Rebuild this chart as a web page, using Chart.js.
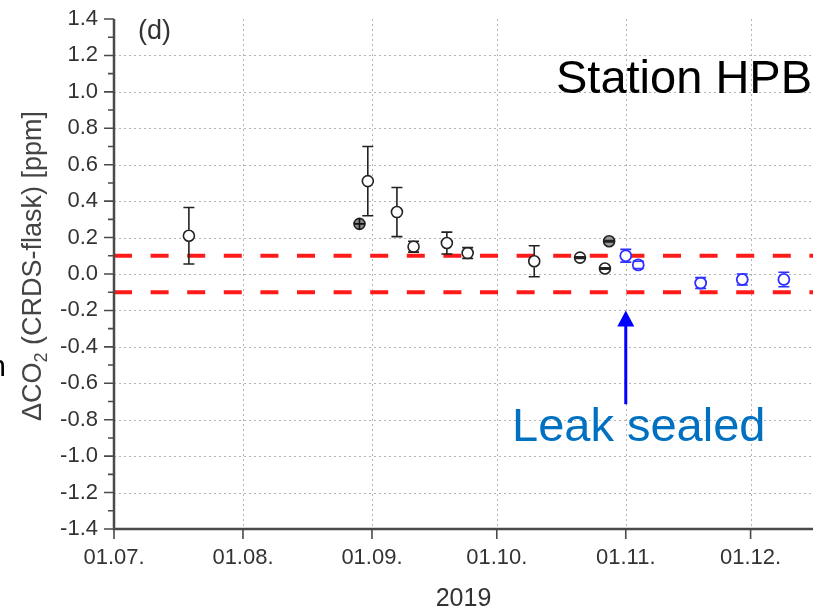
<!DOCTYPE html>
<html>
<head>
<meta charset="utf-8">
<script src="https://cdn.jsdelivr.net/npm/chart.js@4"></script>
<style>
  html, body { margin: 0; padding: 0; background: #fff; }
  #wrap { width: 813px; height: 610px; position: relative; }
</style>
</head>
<body>
<div id="wrap"><canvas id="c" width="813" height="610"></canvas></div>
<script>
// ΔCO2 = CRDS minus flask (ppm) at station HPB, 2019
const beforeDates = ['2019-07-19', '2019-08-31', '2019-09-07', '2019-09-11', '2019-09-19',
                     '2019-09-24', '2019-10-10', '2019-10-21', '2019-10-27', '2019-10-28'];
const beforeDiff  = [0.21, 0.51, 0.34, 0.15, 0.17, 0.115, 0.07, 0.09, 0.03, 0.18];
const beforeErr   = [0.155, 0.19, 0.135, 0.03, 0.06, 0.03, 0.085, 0.004, 0.004, 0.004];

// flagged flask pair
const flaggedDates = ['2019-08-29'];
const flaggedDiff  = [0.275];

// after the leak was sealed
const afterDates = ['2019-11-01', '2019-11-04', '2019-11-19', '2019-11-29', '2019-12-09'];
const afterDiff  = [0.10, 0.05, -0.05, -0.03, -0.03];
const afterErr   = [0.035, 0.02, 0.03, 0.03, 0.04];

// compatibility goal band
const toleranceLimits = [0.1, -0.1];

// axis
const axisStart = '2019-07-01';
const axisEnd = '2019-12-16';
const monthTickDates = ['2019-07-01', '2019-08-01', '2019-09-01', '2019-10-01', '2019-11-01', '2019-12-01'];
const monthTickLabels = ['01.07.', '01.08.', '01.09.', '01.10.', '01.11.', '01.12.'];
const leakSealedDate = '2019-11-01';
const shadedDates = ['2019-10-28'];

const DAY = 86400000;
const dayOf = s => (Date.parse(s + 'T00:00:00Z') - Date.parse(axisStart + 'T00:00:00Z')) / DAY;
const pts = (dates, vals) => dates.map((d, i) => ({ x: dayOf(d), y: vals[i] }));

const FONT = '"Liberation Sans", Arial, Helvetica, sans-serif';
const BLUE_PTS = '#2f2fff';

const bandSets = toleranceLimits.map(v => ({
  type: 'line',
  data: [{ x: dayOf(axisStart), y: v }, { x: dayOf(axisEnd), y: v }],
  borderColor: '#ff1a1a',
  borderWidth: 4,
  borderDash: [18, 18.6],
  pointRadius: 0,
  order: 5
}));

const decor = {
  id: 'decor',
  beforeDatasetsDraw(chart) {
    const { ctx, chartArea: a, scales: { x, y } } = chart;
    ctx.save();
    ctx.strokeStyle = '#b4b4b4';
    ctx.lineWidth = 1;
    ctx.setLineDash([2, 3]);
    y.ticks.forEach(t => {
      if (t.value > -1.35 && t.value < 1.35) {
        const py = Math.round(y.getPixelForValue(t.value)) + 0.5;
        ctx.beginPath(); ctx.moveTo(a.left, py); ctx.lineTo(a.right, py); ctx.stroke();
      }
    });
    x.ticks.forEach(t => {
      if (t.value > 0.5) {
        const px = Math.round(x.getPixelForValue(t.value)) + 0.5;
        ctx.beginPath(); ctx.moveTo(px, a.top); ctx.lineTo(px, a.bottom); ctx.stroke();
      }
    });
    ctx.restore();
  },
  afterDatasetsDraw(chart) {
    const { ctx, scales: { y } } = chart;
    ctx.save();
    chart.data.datasets.forEach((ds, i) => {
      if (!ds.errs) return;
      const meta = chart.getDatasetMeta(i);
      ctx.strokeStyle = ds.borderColor;
      ctx.lineWidth = 1.6;
      meta.data.forEach((el, j) => {
        const v = ds.data[j].y, e = ds.errs[j];
        const top = y.getPixelForValue(v + e), bot = y.getPixelForValue(v - e);
        const r = ds.pointRadius + 0.5;
        ctx.beginPath();
        if (el.y - top > r) { ctx.moveTo(el.x, top); ctx.lineTo(el.x, el.y - r); }
        if (bot - el.y > r) { ctx.moveTo(el.x, el.y + r); ctx.lineTo(el.x, bot); }
        ctx.moveTo(el.x - 5.5, top); ctx.lineTo(el.x + 5.5, top);
        ctx.moveTo(el.x - 5.5, bot); ctx.lineTo(el.x + 5.5, bot);
        ctx.stroke();
      });
    });
    ctx.restore();
  },
  afterDraw(chart) {
    const { ctx, chartArea: a, scales: { x, y } } = chart;
    ctx.save();
    // axis lines
    ctx.strokeStyle = '#4a4a4a';
    ctx.lineWidth = 2.5;
    ctx.beginPath();
    ctx.moveTo(a.left, a.top); ctx.lineTo(a.left, a.bottom); ctx.lineTo(a.right, a.bottom);
    ctx.stroke();
    // y tick marks, major every 0.2 and minor between
    ctx.lineWidth = 1.6;
    ctx.beginPath();
    for (let k = -14; k <= 14; k++) {
      const py = y.getPixelForValue(k / 10);
      const len = (k % 2 === 0) ? 10 : 6;
      ctx.moveTo(a.left - len, py); ctx.lineTo(a.left, py);
    }
    x.ticks.forEach(t => {
      const px = x.getPixelForValue(t.value);
      ctx.moveTo(px, a.bottom); ctx.lineTo(px, a.bottom + 10);
    });
    ctx.stroke();

    // y axis title with subscript
    ctx.fillStyle = '#444';
    ctx.translate(41, 266);
    ctx.rotate(-Math.PI / 2);
    const big = '27px ' + FONT, small = '18px ' + FONT;
    ctx.font = big; const w1 = ctx.measureText('\u0394CO').width;
    ctx.font = small; const w2 = ctx.measureText('2').width;
    ctx.font = big; const w3 = ctx.measureText(' (CRDS-flask) [ppm]').width;
    let sx = -(w1 + w2 + w3) / 2;
    ctx.textBaseline = 'alphabetic';
    ctx.font = big; ctx.fillText('\u0394CO', sx, 0); sx += w1;
    ctx.font = small; ctx.fillText('2', sx, 6); sx += w2;
    ctx.font = big; ctx.fillText(' (CRDS-flask) [ppm]', sx, 0);
    ctx.setTransform(1, 0, 0, 1, 0, 0);

    // x axis title
    ctx.fillStyle = '#333';
    ctx.font = '25px ' + FONT;
    ctx.textAlign = 'center';
    ctx.fillText('2019', (a.left + a.right) / 2, 606);

    // panel letter and station name
    ctx.textAlign = 'left';
    ctx.font = '27px ' + FONT;
    ctx.fillText('(d)', 138, 39);
    ctx.fillStyle = '#000';
    ctx.font = '47px ' + FONT;
    ctx.fillText('Station HPB', 556, 93);

    // partial word at left margin
    ctx.font = '30px ' + FONT;
    ctx.textAlign = 'right';
    ctx.fillText('n', 6, 376);

    // leak-sealed arrow
    const ax = x.getPixelForValue(dayOf(leakSealedDate));
    const tip = y.getPixelForValue(-0.2), tail = y.getPixelForValue(-0.715);
    ctx.strokeStyle = '#0000ff';
    ctx.fillStyle = '#0000ff';
    ctx.lineWidth = 3;
    ctx.beginPath(); ctx.moveTo(ax, tail); ctx.lineTo(ax, tip + 14); ctx.stroke();
    ctx.beginPath();
    ctx.moveTo(ax, tip); ctx.lineTo(ax - 8.5, tip + 16); ctx.lineTo(ax + 8.5, tip + 16);
    ctx.closePath(); ctx.fill();

    ctx.fillStyle = '#0070c0';
    ctx.font = '47px ' + FONT;
    ctx.textAlign = 'left';
    ctx.fillText('Leak sealed', 512, 441);
    ctx.restore();
  }
};

new Chart(document.getElementById('c'), {
  type: 'scatter',
  data: {
    datasets: [
      {
        data: pts(beforeDates, beforeDiff),
        errs: beforeErr,
        borderColor: '#222',
        backgroundColor: ctx => shadedDates.includes(beforeDates[ctx.dataIndex]) ? '#9a9a9a' : '#fff',
        pointRadius: 5.5,
        pointBorderWidth: 1.6,
        order: 1
      },
      {
        data: pts(flaggedDates, flaggedDiff),
        borderColor: '#222',
        backgroundColor: '#8a8a8a',
        pointRadius: 5.5,
        pointBorderWidth: 1.6,
        order: 1
      },
      {
        data: pts(flaggedDates, flaggedDiff),
        pointStyle: 'cross',
        borderColor: '#111',
        pointRadius: 5.5,
        pointBorderWidth: 1.6,
        order: 0
      },
      {
        data: pts(afterDates, afterDiff),
        errs: afterErr,
        borderColor: BLUE_PTS,
        backgroundColor: '#fff',
        pointRadius: 5.5,
        pointBorderWidth: 1.8,
        order: 1
      },
      ...bandSets
    ]
  },
  options: {
    responsive: false,
    animation: false,
    events: [],
    layout: { autoPadding: false, padding: { top: 19, right: 0, bottom: 0, left: 0 } },
    plugins: { legend: { display: false }, tooltip: { enabled: false } },
    scales: {
      x: {
        type: 'linear',
        min: dayOf(axisStart),
        max: dayOf(axisEnd),
        grid: { display: false, drawTicks: false },
        border: { display: false },
        afterBuildTicks: s => { s.ticks = monthTickDates.map(d => ({ value: dayOf(d) })); },
        afterFit: s => { s.height = 81; s.paddingLeft = 0; s.paddingRight = 0; },
        ticks: {
          autoSkip: false,
          maxRotation: 0,
          padding: 16,
          color: '#333',
          font: { family: FONT, size: 22 },
          callback: (v, i) => monthTickLabels[i]
        }
      },
      y: {
        min: -1.4,
        max: 1.4,
        grid: { display: false, drawTicks: false },
        border: { display: false },
        afterFit: s => { s.width = 114; s.paddingTop = 0; s.paddingBottom = 0; },
        ticks: {
          stepSize: 0.2,
          padding: 16,
          color: '#333',
          font: { family: FONT, size: 22 },
          callback: v => (Math.abs(v) < 1e-9 ? 0 : v).toFixed(1)
        }
      }
    }
  },
  plugins: [decor]
});
</script>
</body>
</html>
